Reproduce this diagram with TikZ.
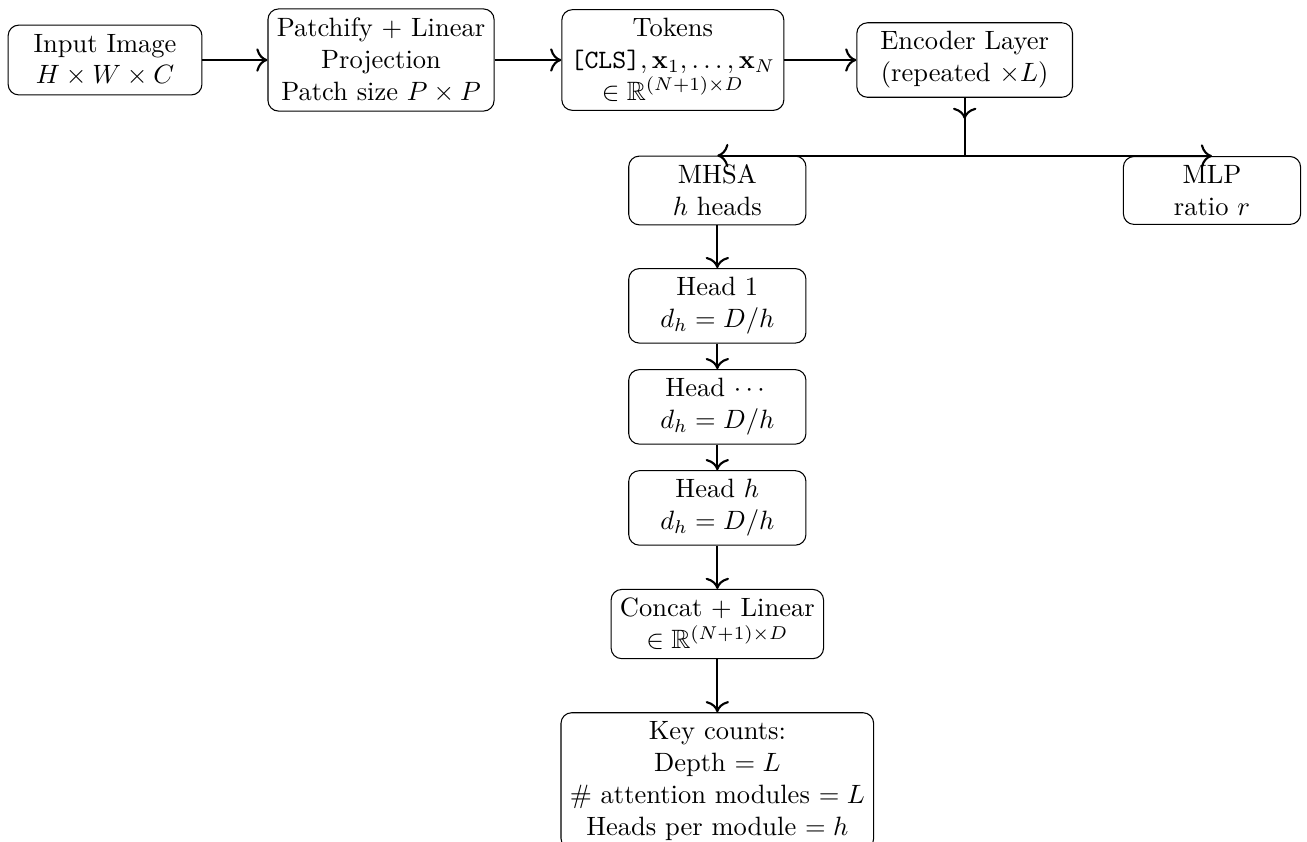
\documentclass[tikz,border=0pt]{standalone}
\usepackage{amsmath}
\usepackage{amssymb}
\usepackage{tikz}
\usetikzlibrary{positioning,arrows.meta}

\begin{document}
\begin{tikzpicture}[
    node distance=1.34cm,
    box/.style={rectangle, draw, rounded corners, align=center, minimum width=2.35cm},
    arrow/.style={-{To[scale=1.25]}, thick}
]
    \useasboundingbox (-1.393,0.796) rectangle (15.94,-10.36);

    \node[box, minimum width=2.57cm] (input) {Input Image\\ $H \times W \times C$};
    \node[box, right of=input, xshift=2.32cm] (patch) {Patchify + Linear\\ Projection\\ Patch size $P \times P$};
    \node[box, right of=patch, xshift=2.53cm] (tokens) {Tokens\\ $\texttt{[CLS]}, \mathbf{x}_1, \ldots, \mathbf{x}_N$\\ $\in \mathbb{R}^{(N+1)\times D}$};
    \node[box, right of=tokens, xshift=2.53cm, minimum width=2.86cm] (encoder) {Encoder Layer\\ (repeated $\times L$)};
    \node[box, below of=encoder, xshift=-3.28cm, yshift=-0.39cm] (mhsa) {MHSA\\ $h$ heads};
    \node[box, below of=encoder, xshift=3.28cm, yshift=-0.39cm] (mlp) {MLP\\ ratio $r$};
    \node[box, below of=mhsa, yshift=-0.19cm] (head1) {Head 1\\ $d_h = D/h$};
    \node[box, below of=head1] (headdots) {Head $\cdots$\\ $d_h = D/h$};
    \node[box, below of=headdots] (headh) {Head $h$\\ $d_h = D/h$};
    \node[box, below of=headh, yshift=-0.2cm] (concat) {Concat + Linear\\ $\in \mathbb{R}^{(N+1)\times D}$};
    \node[box, below of=concat, yshift=-0.74cm] (keys) {Key counts:\\ Depth $= L$\\ \# attention modules $= L$\\ Heads per module $= h$};

    \coordinate[below=0.28cm of encoder.south] (split);

    \draw[arrow] (input) -- (patch);
    \draw[arrow] (patch) -- (tokens);
    \draw[arrow] (tokens) -- (encoder);
    \draw[arrow] (encoder.south) -- (split);
    \draw[arrow] (encoder.south) |- (mhsa.north);
    \draw[arrow] (encoder.south) |- (mlp.north);
    \draw[arrow] (mhsa) -- (head1);
    \draw[arrow] (head1) -- (headdots);
    \draw[arrow] (headdots) -- (headh);
    \draw[arrow] (headh) -- (concat);
    \draw[arrow] (concat) -- (keys);
\end{tikzpicture}
\end{document}
